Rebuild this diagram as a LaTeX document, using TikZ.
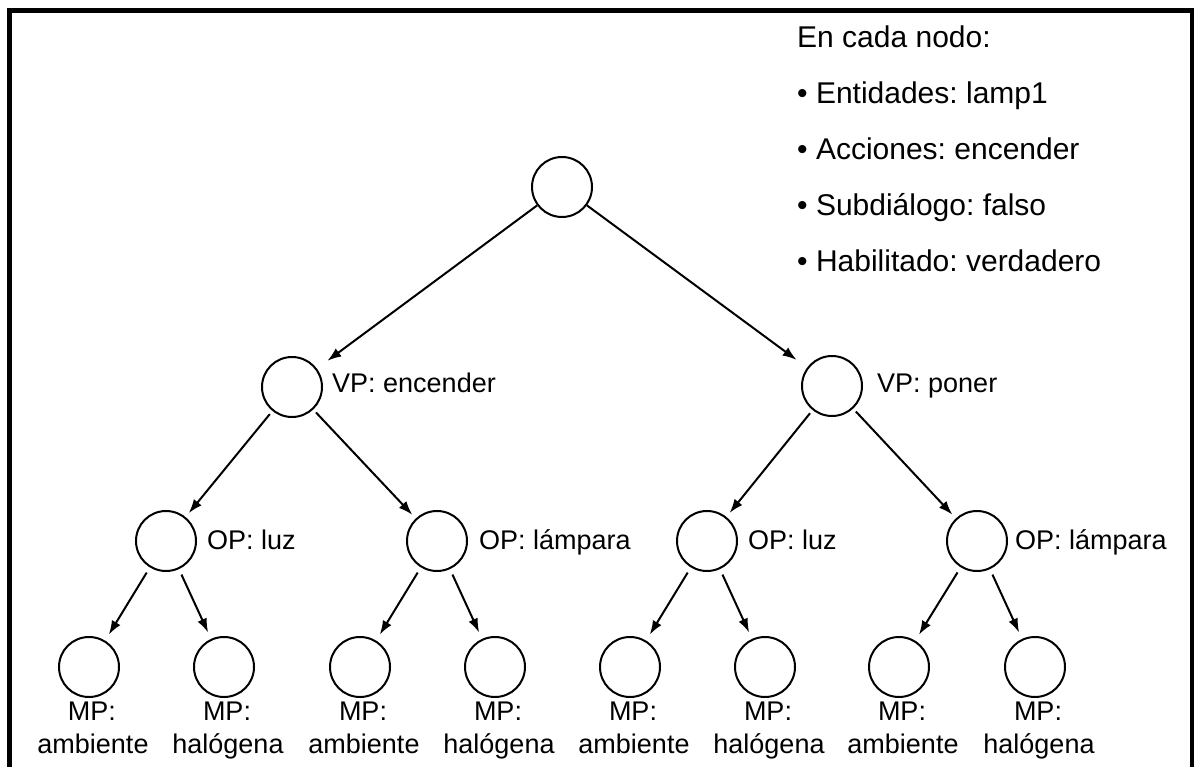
\documentclass[tikz,border=0pt]{standalone}
\usepackage{fontspec}
\setmainfont{Liberation Sans}
\usetikzlibrary{arrows.meta}
\frenchspacing
\begin{document}
\begin{tikzpicture}[x=1pt,y=-1pt,
  treenode/.style={circle,draw,line width=2pt,minimum size=60pt,inner sep=0pt},
  tag/.style={anchor=base west,inner sep=0pt,font=\fontsize{27}{32}\selectfont},
  leaftag/.style={anchor=base,inner sep=0pt,font=\fontsize{27}{32}\selectfont},
  note/.style={anchor=base west,inner sep=0pt,font=\fontsize{30}{36}\selectfont},
  arr/.style={line width=2pt,-{Latex[length=14pt,width=10pt]}},
  toparr/.style={arr,shorten >=13pt},
  midarr/.style={arr,shorten <=4pt,shorten >=5pt},
  lowarr/.style={arr,shorten <=6pt,shorten >=7pt},
]
\useasboundingbox (0,0) rectangle (1195,767);
% outer frame (its lower edge lies below the page)
\draw[line width=4.5pt] (9.5,10.5) rectangle (1192,790);

% legend
\node[note] (legtitle) at (797,48)  {En cada nodo:};
\node[note] (leg1)     at (797,104) {\textbullet\ Entidades: lamp1};
\node[note] (leg2)     at (797,160) {\textbullet\ Acciones: encender};
\node[note] (leg3)     at (797,216) {\textbullet\ Subdiálogo: falso};
\node[note] (leg4)     at (797,272) {\textbullet\ Habilitado: verdadero};

% tree nodes
\node[treenode] (root) at (562,187) {};
\node[treenode] (vpa)  at (292,387) {};
\node[treenode] (vpb)  at (832,386) {};
\node[treenode] (opa)  at (166,541) {};
\node[treenode] (opb)  at (437,541) {};
\node[treenode] (opc)  at (707,541) {};
\node[treenode] (opd)  at (977,541) {};

\node[tag] (vpalab) at (332,393) {VP: encender};
\node[tag] (vpblab) at (877,393) {VP: poner};
\node[tag] (opalab) at (207,549) {OP: luz};
\node[tag] (opblab) at (479,549) {OP: lámpara};
\node[tag] (opclab) at (748,549) {OP: luz};
\node[tag] (opdlab) at (1015,549) {OP: lámpara};

% leaves with their two-line labels
\foreach \i/\x/\w in {1/89/ambiente,2/224/halógena,3/360/ambiente,4/495/halógena,
                      5/630/ambiente,6/765/halógena,7/899/ambiente,8/1035/halógena}{
  \node[treenode] (leaf\i) at (\x,667) {};
  \node[leaftag] (leaf\i mp) at (\x+3,720) {MP:};
  \node[leaftag] (leaf\i w)  at (\x+4,753) {\w};
}

% connectors
\draw[toparr] (root) -- (vpa);
\draw[toparr] (root) -- (vpb);
\draw[midarr] (vpa) -- (opa);
\draw[midarr] (vpa) -- (opb);
\draw[midarr] (vpb) -- (opc);
\draw[midarr] (vpb) -- (opd);
\foreach \p/\a/\b in {opa/leaf1/leaf2,opb/leaf3/leaf4,opc/leaf5/leaf6,opd/leaf7/leaf8}{
  \draw[lowarr] (\p) -- (\a);
  \draw[lowarr] (\p) -- (\b);
}
\end{tikzpicture}
\end{document}
